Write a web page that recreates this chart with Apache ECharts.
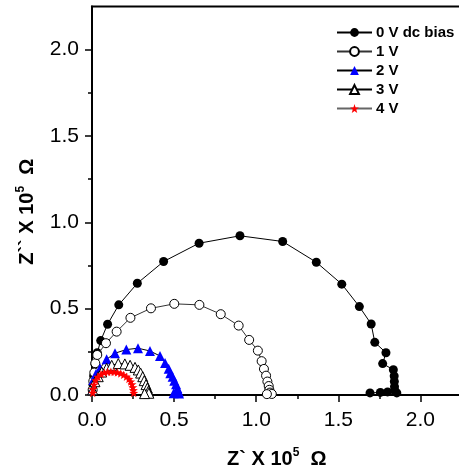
<!DOCTYPE html>
<html>
<head>
<meta charset="utf-8">
<script src="https://cdn.jsdelivr.net/npm/echarts@6/dist/echarts.min.js"></script>
<style>
  html, body { margin: 0; padding: 0; background: #fff; }
  #chart { width: 459px; height: 469px; }
</style>
</head>
<body>
<div id="chart"></div>
<script>
// Nyquist plots (Z' vs Z'', in units of 10^5 ohm) at several dc bias voltages
const seriesNames = ['0 V dc bias', '1 V', '2 V', '3 V', '4 V'];

const bias0V = [
  [0.003, 0.02], [0.006, 0.06], [0.010, 0.11], [0.018, 0.18], [0.032, 0.245],
  [0.053, 0.315], [0.095, 0.41], [0.163, 0.522], [0.276, 0.647], [0.436, 0.773],
  [0.652, 0.879], [0.901, 0.922], [1.161, 0.889], [1.366, 0.769], [1.521, 0.642],
  [1.628, 0.512], [1.700, 0.411], [1.722, 0.305], [1.790, 0.245], [1.770, 0.182],
  [1.835, 0.146], [1.840, 0.110], [1.841, 0.078], [1.842, 0.048], [1.845, 0.024],
  [1.856, 0.012], [1.800, 0.018], [1.756, 0.015], [1.693, 0.012]
];

const bias1V = [
  [0.004, 0.03], [0.008, 0.08], [0.014, 0.13], [0.020, 0.184], [0.032, 0.232],
  [0.085, 0.30], [0.150, 0.367], [0.234, 0.447], [0.359, 0.502], [0.501, 0.528],
  [0.654, 0.522], [0.784, 0.468], [0.893, 0.402], [0.957, 0.319], [1.010, 0.257],
  [1.033, 0.196], [1.047, 0.151], [1.060, 0.112], [1.068, 0.078], [1.076, 0.052],
  [1.080, 0.030], [1.084, 0.014], [1.095, 0.006], [1.065, 0.005]
];

const bias2V = [
  [0.003, 0.03], [0.008, 0.087], [0.024, 0.122], [0.049, 0.155], [0.089, 0.207],
  [0.140, 0.242], [0.209, 0.263], [0.280, 0.271], [0.353, 0.255], [0.414, 0.226],
  [0.445, 0.186], [0.467, 0.152], [0.477, 0.126], [0.491, 0.106], [0.501, 0.083],
  [0.512, 0.062], [0.520, 0.039], [0.527, 0.019], [0.530, 0.008], [0.497, 0.010]
];

const bias3V = [
  [0.004, 0.03], [0.018, 0.077], [0.038, 0.106], [0.059, 0.133], [0.089, 0.155],
  [0.120, 0.172], [0.160, 0.182], [0.200, 0.180], [0.232, 0.172], [0.262, 0.160],
  [0.282, 0.145], [0.296, 0.127], [0.309, 0.106], [0.318, 0.083], [0.329, 0.060],
  [0.337, 0.040], [0.343, 0.022], [0.346, 0.010], [0.320, 0.008]
];

const bias4V = [
  [0.004, 0.012], [0.006, 0.035], [0.012, 0.060], [0.022, 0.085], [0.036, 0.105],
  [0.055, 0.120], [0.075, 0.130], [0.095, 0.134], [0.115, 0.135], [0.135, 0.134],
  [0.155, 0.131], [0.175, 0.125], [0.193, 0.117], [0.210, 0.106], [0.225, 0.093],
  [0.236, 0.078], [0.244, 0.062], [0.249, 0.045], [0.252, 0.028], [0.254, 0.012]
];

const xMajorTicks = [0, 0.5, 1.0, 1.5, 2.0];
const xMinorTicks = [0.25, 0.75, 1.25, 1.75, 2.25];
const yMajorTicks = [0, 0.5, 1.0, 1.5, 2.0];
const yMinorTicks = [0.25, 0.75, 1.25, 1.75];

const FONT = '"Liberation Sans", Arial, sans-serif';
const STAR = 'path://M0,-10 L2.35,-3.24 L9.51,-3.09 L3.8,1.24 L5.88,8.09 L0,4 L-5.88,8.09 L-3.8,1.24 L-9.51,-3.09 L-2.35,-3.24 Z';

const X_MAX = 2.25, Y_MAX = 2.25;

const chart = echarts.init(document.getElementById('chart'), null, { renderer: 'canvas' });

const lineSeries = (name, data, opts) => Object.assign({
  name,
  type: 'line',
  data,
  xAxisIndex: 0,
  yAxisIndex: 0,
  showAllSymbol: true,
  animation: false,
  smooth: false
}, opts);

const option = {
  animation: false,
  backgroundColor: '#fff',
  grid: {
    left: 92, top: 6.5, right: -2.5, bottom: 74,
    containLabel: false, outerBoundsMode: 'none',
    show: true, borderColor: '#000', borderWidth: 2, backgroundColor: 'transparent'
  },
  legend: {
    orient: 'vertical',
    left: 336, top: 25,
    padding: 0,
    itemWidth: 35, itemHeight: 11, itemGap: 4,
    data: seriesNames,
    textStyle: { fontFamily: FONT, fontWeight: 'bold', fontSize: 15, color: '#000', padding: [0, 0, 0, -1] }
  },
  xAxis: [
    {
      type: 'value', min: 0, max: X_MAX,
      axisLine: { show: true, lineStyle: { color: '#000', width: 2 } },
      axisTick: { show: true, length: 7, lineStyle: { color: '#000', width: 1.5 }, customValues: xMajorTicks },
      axisLabel: { show: true, customValues: xMajorTicks, margin: 15, color: '#000', fontFamily: FONT, fontSize: 21,
        formatter: v => v.toFixed(1) },
      splitLine: { show: false },
      name: '{b|Z` X 10}{sup|5}{b|  Ω}',
      nameLocation: 'middle', nameGap: 52,
      nameTextStyle: {
        rich: {
          b: { fontFamily: FONT, fontWeight: 'bold', fontSize: 20, color: '#000', lineHeight: 24 },
          sup: { fontFamily: FONT, fontWeight: 'bold', fontSize: 12, color: '#000', lineHeight: 12, verticalAlign: 'top' }
        }
      }
    },
    {
      type: 'value', min: 0, max: X_MAX, position: 'bottom', offset: 0,
      axisLine: { show: false },
      axisTick: { show: true, length: 4, lineStyle: { color: '#000', width: 1.5 }, customValues: xMinorTicks },
      axisLabel: { show: false },
      splitLine: { show: false }
    }
  ],
  yAxis: [
    {
      type: 'value', min: 0, max: Y_MAX,
      axisLine: { show: true, lineStyle: { color: '#000', width: 2 } },
      axisTick: { show: true, length: 7, lineStyle: { color: '#000', width: 1.5 }, customValues: yMajorTicks },
      axisLabel: { show: true, customValues: yMajorTicks, margin: 13, color: '#000', fontFamily: FONT, fontSize: 21,
        formatter: v => v.toFixed(1) },
      splitLine: { show: false },
      name: '{b|Z`` X 10}{sup|5}{b|  Ω}{pad|}',
      nameLocation: 'middle', nameGap: 53,
      nameTextStyle: {
        rich: {
          b: { fontFamily: FONT, fontWeight: 'bold', fontSize: 20, color: '#000', lineHeight: 24 },
          sup: { fontFamily: FONT, fontWeight: 'bold', fontSize: 12, color: '#000', lineHeight: 12, verticalAlign: 'top' },
          pad: { width: 22, lineHeight: 24 }
        }
      }
    },
    {
      type: 'value', min: 0, max: Y_MAX, position: 'left', offset: 0,
      axisLine: { show: false },
      axisTick: { show: true, length: 4, lineStyle: { color: '#000', width: 1.5 }, customValues: yMinorTicks },
      axisLabel: { show: false },
      splitLine: { show: false }
    }
  ],
  series: [
    lineSeries(seriesNames[0], bias0V, {
      symbol: 'circle', symbolSize: 9,
      itemStyle: { color: '#000' },
      lineStyle: { color: '#000', width: 1 }, z: 2
    }),
    lineSeries(seriesNames[1], bias1V, {
      symbol: 'circle', symbolSize: 9,
      itemStyle: { color: '#fff', borderColor: '#000', borderWidth: 1 },
      lineStyle: { color: '#333', width: 1 }, z: 3
    }),
    lineSeries(seriesNames[2], bias2V, {
      symbol: 'triangle', symbolSize: 10,
      itemStyle: { color: '#0000ff' },
      lineStyle: { color: '#000', width: 1 }, z: 4
    }),
    lineSeries(seriesNames[3], bias3V, {
      symbol: 'triangle', symbolSize: 10,
      itemStyle: { color: '#fff', borderColor: '#000', borderWidth: 1 },
      lineStyle: { color: '#000', width: 1 }, z: 5
    }),
    lineSeries(seriesNames[4], bias4V, {
      symbol: STAR, symbolSize: 9, symbolKeepAspect: true,
      itemStyle: { color: '#ff0000' },
      lineStyle: { color: '#666', width: 1 }, z: 6
    })
  ]
};

chart.setOption(option);
</script>
</body>
</html>
